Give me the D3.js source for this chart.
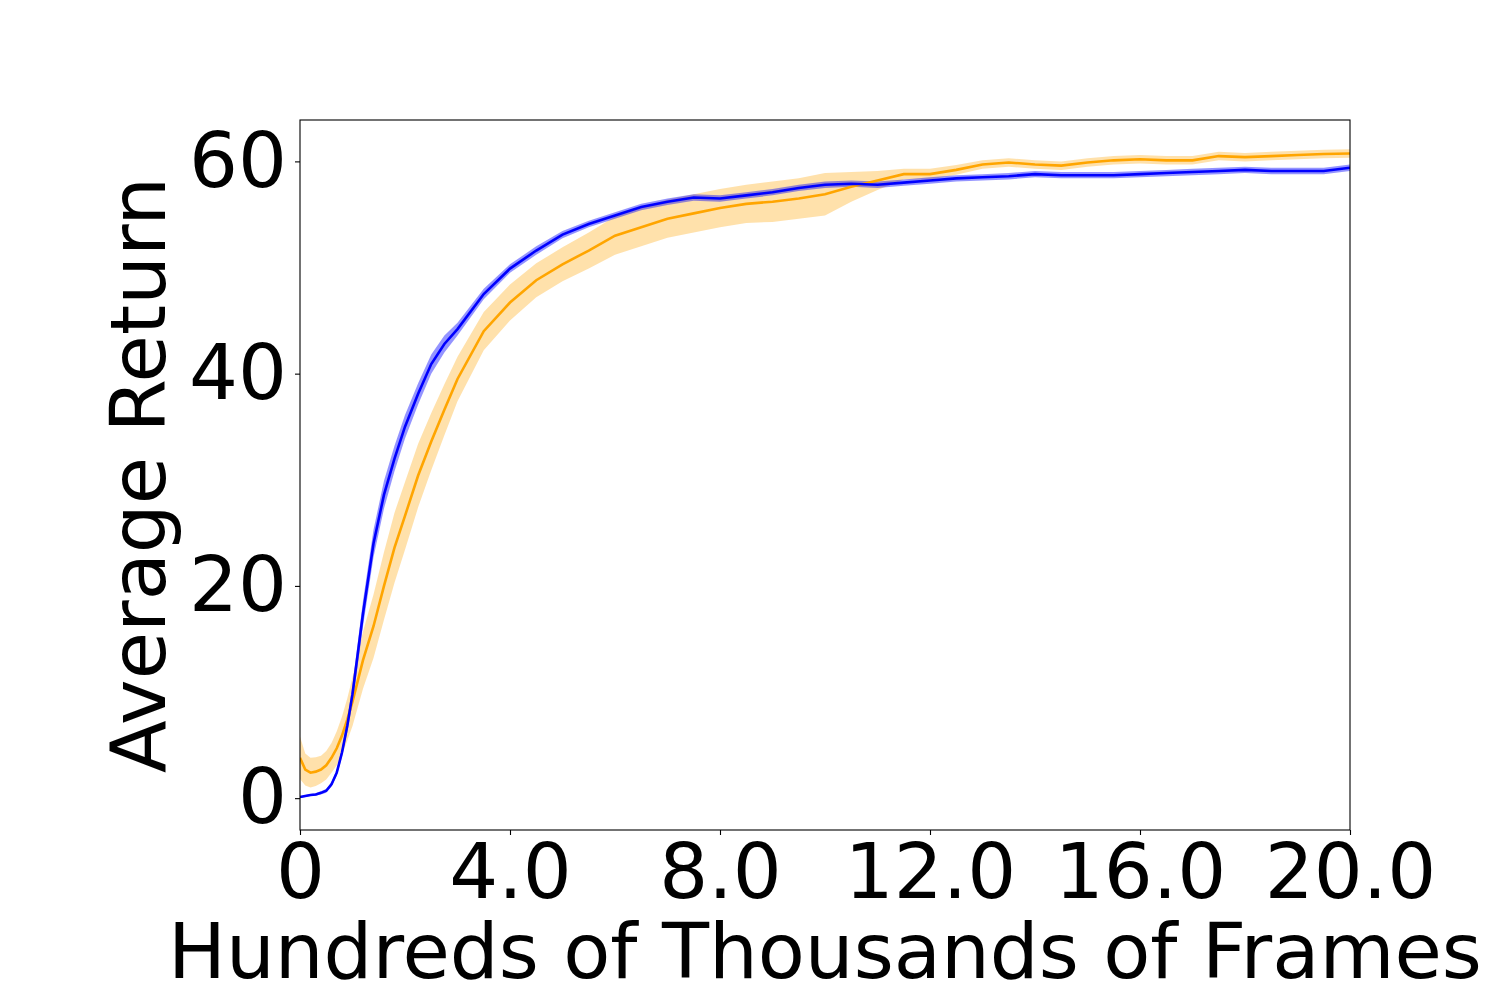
<!DOCTYPE html>
<html>
<head>
<meta charset="utf-8">
<script src="https://cdn.jsdelivr.net/npm/d3@7"></script>
<style>
  body { margin: 0; background: #fff; }
  text { font-family: "DejaVu Sans", sans-serif; }
</style>
</head>
<body>
<div id="chart"></div>
<script>
var width = 1500;
var height = 1000;
var margin = { top: 120, right: 150, bottom: 170, left: 300 };

// x positions (hundreds of thousands of frames)
var steps = [0, 0.1, 0.2, 0.3, 0.4, 0.5, 0.6, 0.7, 0.8, 0.9, 1.0, 1.2, 1.4, 1.6, 1.8, 2.0, 2.25, 2.5, 2.75, 3.0,
  3.5, 4.0, 4.5, 5.0, 5.5, 6.0, 6.5, 7.0, 7.5, 8.0, 8.5, 9.0, 9.5, 10.0, 10.5, 11.0,
  11.5, 12.0, 12.5, 13.0, 13.5, 14.0, 14.5, 15.0, 15.5, 16.0, 16.5, 17.0, 17.5, 18.0,
  18.5, 19.0, 19.5, 20.0];

var blueMean = [0.1, 0.2, 0.3, 0.35, 0.5, 0.7, 1.3, 2.4, 4.3, 6.8, 9.8, 17.4, 24.0, 28.6, 32.0, 35.0, 38.1, 40.9, 42.8, 44.2,
  47.5, 49.9, 51.6, 53.1, 54.1, 54.9, 55.7, 56.2, 56.6, 56.5, 56.8, 57.1, 57.5, 57.8, 57.9, 57.8,
  58.0, 58.2, 58.4, 58.5, 58.6, 58.8, 58.7, 58.7, 58.7, 58.8, 58.9, 59.0, 59.1, 59.2,
  59.1, 59.1, 59.1, 59.4];
var blueStd = [0.1, 0.1, 0.1, 0.12, 0.15, 0.18, 0.2, 0.3, 0.4, 0.6, 0.9, 1.2, 1.3, 1.3, 1.2, 1.1, 1.0, 0.9, 0.8, 0.6,
  0.5, 0.4, 0.4, 0.35, 0.3, 0.3, 0.3, 0.3, 0.3, 0.3, 0.3, 0.3, 0.3, 0.3, 0.3, 0.3,
  0.3, 0.3, 0.3, 0.3, 0.3, 0.3, 0.3, 0.3, 0.3, 0.3, 0.3, 0.3, 0.3, 0.3,
  0.3, 0.3, 0.3, 0.3];

var orangeMean = [3.8, 2.7, 2.4, 2.5, 2.7, 3.1, 3.8, 4.7, 5.9, 7.4, 9.1, 13.0, 16.2, 20.0, 23.6, 26.6, 30.4, 33.6, 36.6, 39.5,
  44.0, 46.7, 48.8, 50.3, 51.6, 53.0, 53.8, 54.6, 55.1, 55.6, 56.0, 56.2, 56.5, 56.9, 57.6, 58.2,
  58.8, 58.8, 59.2, 59.7, 59.9, 59.7, 59.6, 59.9, 60.1, 60.2, 60.1, 60.1, 60.5, 60.4,
  60.5, 60.6, 60.7, 60.75];
var orangeStd = [2.0, 1.5, 1.4, 1.35, 1.3, 1.35, 1.4, 1.6, 1.8, 2.0, 2.3, 2.7, 3.0, 3.2, 3.3, 3.2, 3.0, 2.7, 2.4, 2.1,
  1.8, 1.7, 1.6, 1.6, 1.7, 1.8, 1.8, 1.8, 1.8, 1.8, 1.8, 1.9, 1.9, 2.0, 1.4, 0.9,
  0.5, 0.5, 0.45, 0.4, 0.4, 0.4, 0.4, 0.4, 0.4, 0.4, 0.4, 0.4, 0.4, 0.4,
  0.4, 0.4, 0.4, 0.4];

var xTicks = [0, 4, 8, 12, 16, 20];
var yTicks = [0, 20, 40, 60];

var svg = d3.select("#chart")
  .append("svg")
  .attr("width", width)
  .attr("height", height);

var x = d3.scaleLinear().domain([0, 20]).range([margin.left, width - margin.right]);
var y = d3.scaleLinear().domain([-3.0, 63.9]).range([height - margin.bottom, margin.top]);

function series(mean, std) {
  return steps.map(function(s, i) { return { x: s, m: mean[i], s: std[i] }; });
}

var band = d3.area()
  .x(function(d) { return x(d.x); })
  .y0(function(d) { return y(d.m - d.s); })
  .y1(function(d) { return y(d.m + d.s); });

var line = d3.line()
  .x(function(d) { return x(d.x); })
  .y(function(d) { return y(d.m); });

var plot = svg.append("g");
plot.append("clipPath").attr("id", "clip")
  .append("rect")
  .attr("x", margin.left).attr("y", margin.top)
  .attr("width", width - margin.left - margin.right)
  .attr("height", height - margin.top - margin.bottom);

var g = plot.append("g").attr("clip-path", "url(#clip)");

var orange = series(orangeMean, orangeStd);
var blue = series(blueMean, blueStd);

g.append("path").attr("d", band(orange)).attr("fill", "orange").attr("opacity", 0.33);
g.append("path").attr("d", band(blue)).attr("fill", "blue").attr("opacity", 0.42);
g.append("path").attr("d", line(orange)).attr("fill", "none").attr("stroke", "orange").attr("stroke-width", 2.6);
g.append("path").attr("d", line(blue)).attr("fill", "none").attr("stroke", "blue").attr("stroke-width", 2.6);

// axes
var xAxis = svg.append("g")
  .attr("transform", "translate(0," + (height - margin.bottom) + ")")
  .call(d3.axisBottom(x).tickValues(xTicks)
    .tickFormat(function(d) { return d === 0 ? "0" : d3.format(".1f")(d); })
    .tickSize(5).tickPadding(8));

var yAxis = svg.append("g")
  .attr("transform", "translate(" + margin.left + ",0)")
  .call(d3.axisLeft(y).tickValues(yTicks).tickFormat(d3.format("d"))
    .tickSize(5).tickPadding(8));

[xAxis, yAxis].forEach(function(a) {
  a.select(".domain").remove();
  a.selectAll(".tick line").attr("stroke", "black").attr("stroke-width", 1.1);
  a.selectAll(".tick text")
    .attr("fill", "black")
    .style("font-size", "77px")
    .style("font-family", "'DejaVu Sans', sans-serif");
});

svg.append("rect")
  .attr("x", margin.left).attr("y", margin.top)
  .attr("width", width - margin.left - margin.right)
  .attr("height", height - margin.top - margin.bottom)
  .attr("fill", "none")
  .attr("stroke", "black")
  .attr("stroke-width", 1.1);

svg.append("text")
  .attr("x", (margin.left + width - margin.right) / 2)
  .attr("y", 978)
  .attr("text-anchor", "middle")
  .style("font-size", "77px")
  .text("Hundreds of Thousands of Frames");

svg.append("text")
  .attr("transform", "translate(165," + (margin.top + (height - margin.top - margin.bottom) / 2) + ") rotate(-90)")
  .attr("text-anchor", "middle")
  .style("font-size", "77px")
  .text("Average Return");
</script>
</body>
</html>
